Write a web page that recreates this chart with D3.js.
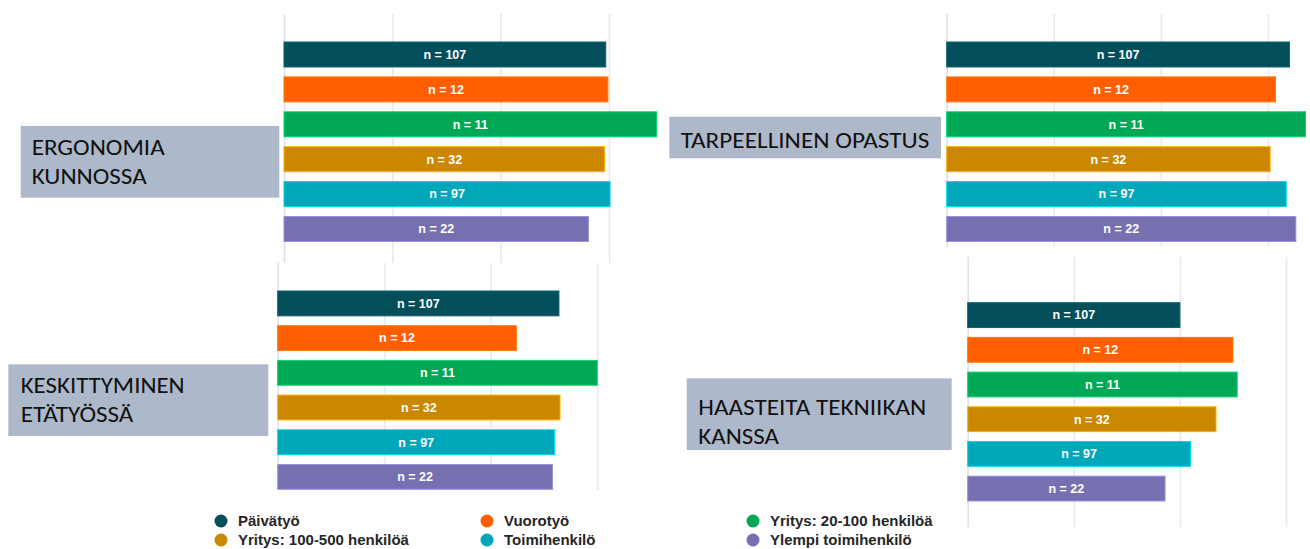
<!DOCTYPE html>
<html lang="fi">
<head>
<meta charset="utf-8">
<script src="https://cdn.jsdelivr.net/npm/d3@7/dist/d3.min.js"></script>
<style>
  html, body { margin: 0; padding: 0; background: #ffffff; }
  svg { display: block; }
</style>
</head>
<body>
<svg id="chart" width="1310" height="549"></svg>
<script>
// Vastaajaryhmät, ryhmien koot ja värit
const groups = ["Päivätyö", "Vuorotyö", "Yritys: 20-100 henkilöä",
                "Yritys: 100-500 henkilöä", "Toimihenkilö", "Ylempi toimihenkilö"];
const groupN = [107, 12, 11, 32, 97, 22];
const groupColors = ["#034e5b", "#ff5f00", "#00a855", "#cc8700", "#00a7b9", "#7670b1"];

// Kysymysaiheet (rivitettyinä)
const topicLines = [
  ["ERGONOMIA", "KUNNOSSA"],
  ["TARPEELLINEN OPASTUS"],
  ["KESKITTYMINEN", "ETÄTYÖSSÄ"],
  ["HAASTEITA TEKNIIKAN", "KANSSA"]
];

// Keskiarvot ryhmittäin (asteikko 1–5)
const ergonomiaValues     = [3.97, 3.99, 4.44, 3.96, 4.01, 3.81];
const opastusValues       = [4.20, 4.07, 4.35, 4.02, 4.17, 4.26];
const keskittyminenValues = [3.64, 3.24, 4.00, 3.65, 3.60, 3.58];
const tekniikkaValues     = [3.00, 3.50, 3.54, 3.34, 3.10, 2.86];

// Apuviivojen arvot
const gridTicks = [1, 2, 3, 4];

const topicValues = [ergonomiaValues, opastusValues, keskittyminenValues, tekniikkaValues];

// Paneelien sijoittelu
const panels = [
  { x0: 284.0, x1: 609.0,  gridTop: 14,  gridBottom: 263, barTop: 42,    barBottom: 241.5,
    box: { x: 20.7, y: 126, w: 258.6, h: 71.7, tx: 31.7, base: [155, 184], len: [133, 115] } },
  { x0: 946.7, x1: 1268.0, gridTop: 14,  gridBottom: 247, barTop: 42,    barBottom: 241.5,
    box: { x: 669.3, y: 116.7, w: 271.7, h: 41.6, tx: 680.7, base: [147.7], len: [248.6] } },
  { x0: 277.7, x1: 597.3,  gridTop: 263, gridBottom: 490, barTop: 291,   barBottom: 489.3,
    box: { x: 8.3, y: 364.3, w: 260, h: 71.7, tx: 20.7, base: [393.3, 421.7], len: [164, 112.7] } },
  { x0: 967.7, x1: 1286.0, gridTop: 257, gridBottom: 527, barTop: 302.7, barBottom: 501,
    box: { x: 686.7, y: 378.3, w: 265, h: 71.7, tx: 698.3, base: [415, 444], len: [228, 80.7] } }
];

const svg = d3.select("#chart");

panels.forEach((p, pi) => {
  const values = topicValues[pi];
  const g = svg.append("g");

  const x = d3.scaleLinear().domain([gridTicks[0], gridTicks[gridTicks.length - 1]]).range([p.x0, p.x1]);
  const y = d3.scaleBand().domain(d3.range(groups.length))
    .range([p.barTop, p.barBottom]).paddingInner(0.284).paddingOuter(0);

  // pystysuorat apuviivat
  const grid = g.append("g")
    .attr("transform", `translate(0,${p.gridTop})`)
    .call(d3.axisTop(x).tickValues(gridTicks).tickFormat("")
      .tickSizeInner(-(p.gridBottom - p.gridTop)).tickSizeOuter(0));
  grid.select(".domain").remove();
  grid.selectAll(".tick line")
    .attr("stroke", (d, i) => i === 0 ? "#dce1eb" : "#e7e9ef")
    .attr("stroke-width", 1.6);

  // pylväät
  g.selectAll("rect.bar").data(values).join("rect")
    .attr("class", "bar")
    .attr("x", x(gridTicks[0]))
    .attr("y", (d, i) => y(i))
    .attr("width", d => x(d) - x(gridTicks[0]))
    .attr("height", y.bandwidth())
    .attr("fill", (d, i) => groupColors[i])
    .attr("stroke", (d, i) => d3.color(groupColors[i]).brighter(0.7))
    .attr("stroke-width", 1);

  // n-merkinnät pylväiden keskelle
  g.selectAll("text.n").data(values).join("text")
    .attr("class", "n")
    .attr("x", d => (x(gridTicks[0]) + x(d)) / 2)
    .attr("y", (d, i) => y(i) + y.bandwidth() / 2)
    .attr("dy", "0.35em")
    .attr("text-anchor", "middle")
    .attr("font-family", "'Liberation Sans', Arial, sans-serif")
    .attr("font-weight", "bold")
    .attr("font-size", 12.5)
    .attr("fill", "#ffffff")
    .text((d, i) => `n = ${groupN[i]}`);

  // aiheen otsikkolaatikko
  const b = p.box;
  svg.append("rect")
    .attr("x", b.x).attr("y", b.y).attr("width", b.w).attr("height", b.h)
    .attr("fill", "#adb9ca");
  topicLines[pi].forEach((line, li) => {
    svg.append("text")
      .attr("x", b.tx).attr("y", b.base[li])
      .attr("font-family", "Carlito, Lato, 'Open Sans', sans-serif")
      .attr("font-size", 22)
      .attr("fill", "#111111")
      .attr("textLength", b.len[li])
      .attr("lengthAdjust", "spacingAndGlyphs")
      .text(line);
  });
});

// selite
const legendCols = [221, 487, 753];
const legendRows = [521, 540];
const legend = svg.append("g");
groups.forEach((name, i) => {
  const cx = legendCols[i % 3];
  const cy = legendRows[Math.floor(i / 3)];
  legend.append("circle")
    .attr("cx", cx).attr("cy", cy).attr("r", 6.5)
    .attr("fill", groupColors[i]);
  legend.append("text")
    .attr("x", cx + 17).attr("y", cy)
    .attr("dy", "0.36em")
    .attr("font-family", "'Liberation Sans', Arial, sans-serif")
    .attr("font-weight", "bold")
    .attr("font-size", 15)
    .attr("fill", "#262626")
    .text(name);
});
</script>
</body>
</html>
